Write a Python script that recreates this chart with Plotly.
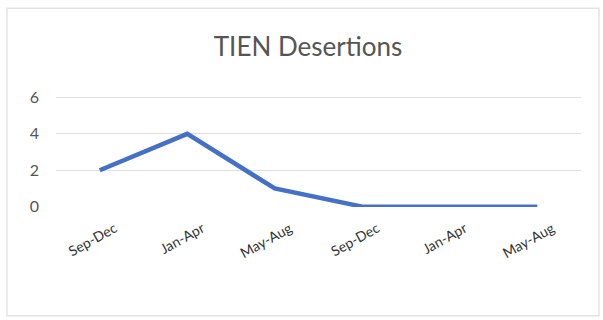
import plotly.graph_objects as go

categories = ["Sep-Dec", "Jan-Apr", "May-Aug", "Sep-Dec", "Jan-Apr", "May-Aug"]
desertions = [2, 4, 1, 0, 0, 0]
y_ticks = [0, 2, 4, 6]

x_pos = list(range(len(categories)))

fig = go.Figure()
fig.add_trace(go.Scatter(
    x=x_pos, y=desertions, mode="lines",
    line=dict(color="#4570C8", width=4.5),
    hoverinfo="skip", showlegend=False,
))

W, H = 603, 320
y_lo, y_hi = -0.02, 6.3
y0_px, y6_px = 207, 97
ppu = (y0_px - y6_px) / 6.0
bottom_px = y0_px - y_lo * ppu
top_px = y0_px - y_hi * ppu
L, R = 56, 22
T, B = top_px, H - bottom_px
pw, ph = W - L - R, bottom_px - top_px

def px_to_paper_x(px):
    return (px - L) / pw

def px_to_paper_y(py):
    return (bottom_px - py) / ph

fig.update_layout(
    width=W, height=H,
    margin=dict(l=L, r=R, t=T, b=B, pad=0),
    paper_bgcolor="white", plot_bgcolor="white",
    font=dict(family="Lato, Open Sans, sans-serif", color="#595959"),
    title=dict(text="TIEN Desertions", x=px_to_paper_x(308), xref="paper",
               xanchor="center", y=1 - 47 / H, yanchor="middle",
               font=dict(size=26, color="#555555")),
    xaxis=dict(
        tickmode="array", tickvals=x_pos, ticktext=categories,
        range=[-0.5, len(categories) - 0.5],
        showgrid=False, zeroline=False, showline=False,
        tickangle=-29, tickfont=dict(size=14, color="#333333"),
        ticks="", ticklabelshift=15, ticklabelstandoff=10,
    ),
    yaxis=dict(
        tickmode="array", tickvals=y_ticks, range=[y_lo, y_hi],
        showgrid=True, gridcolor="#DDDDDD", gridwidth=1,
        zeroline=False, showline=False, ticks="",
        tickfont=dict(size=16, color="#555555"), ticklabelstandoff=16,
    ),
    shapes=[dict(
        type="rect", xref="paper", yref="paper",
        x0=px_to_paper_x(7), x1=px_to_paper_x(599),
        y0=px_to_paper_y(317), y1=px_to_paper_y(7),
        line=dict(color="#E3E3E3", width=1.5), fillcolor="rgba(0,0,0,0)",
        layer="below",
    )],
)

fig.write_html("out.html")
